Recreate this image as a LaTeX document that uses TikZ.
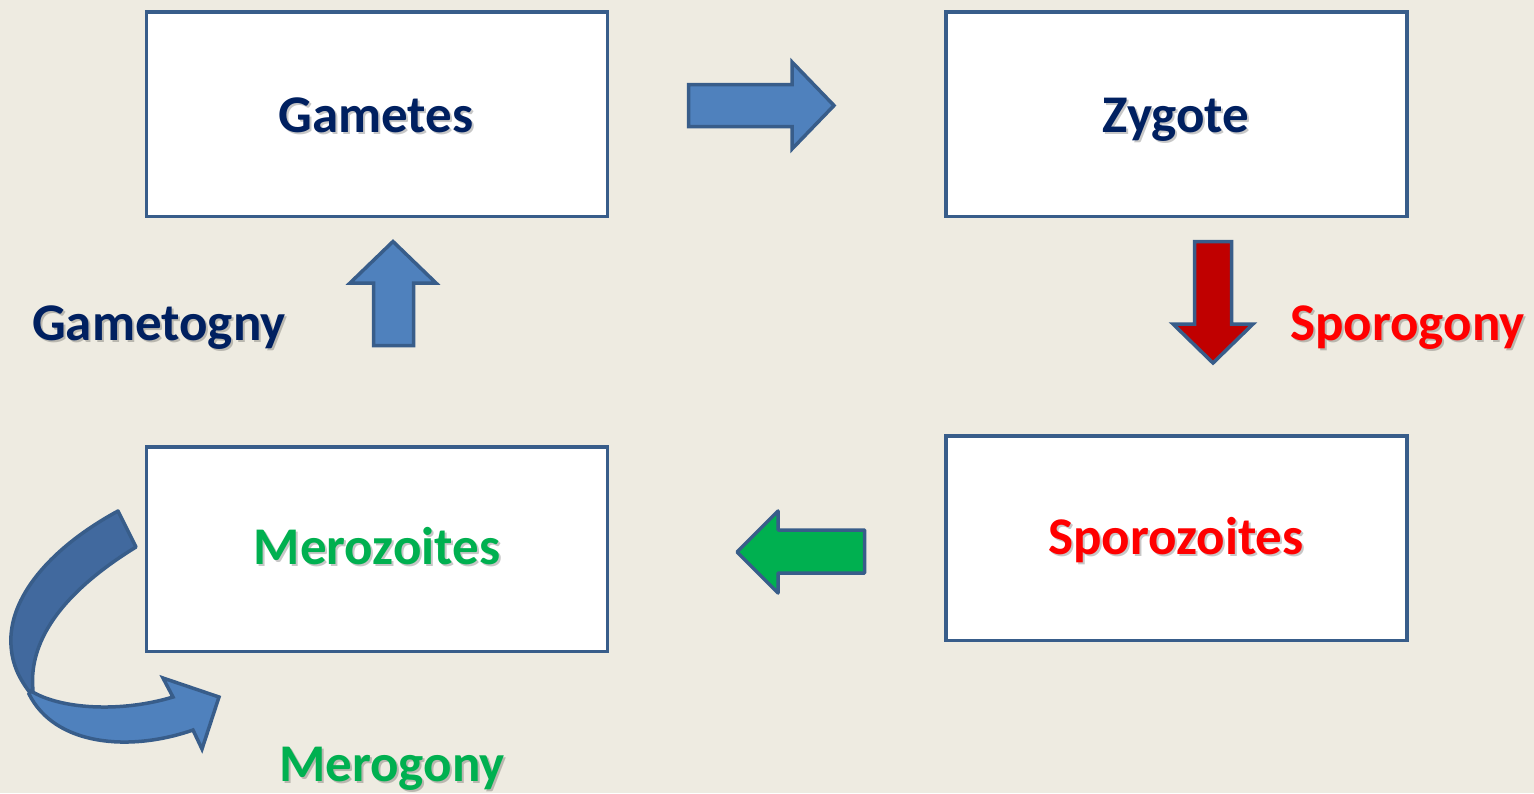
\documentclass[tikz,border=0pt]{standalone}
\usepackage{fontspec}
\setmainfont{Carlito}
\definecolor{bg}{HTML}{EEEBE1}
\definecolor{edge}{HTML}{385D8A}
\definecolor{blfill}{HTML}{4F81BD}
\definecolor{bldark}{HTML}{41699E}
\definecolor{rdfill}{HTML}{C00000}
\definecolor{grfill}{HTML}{00B050}
\definecolor{navy}{HTML}{002060}
\definecolor{redtxt}{HTML}{FF0000}
\definecolor{grtxt}{HTML}{00B050}
\tikzset{
  box/.style={draw=edge, line width=3.5pt, fill=white, minimum width=461pt, minimum height=204.5pt, inner sep=0pt},
  txt/.style={anchor=base, inner sep=0pt, font=\fontsize{53}{60}\selectfont\bfseries},
  txtw/.style={anchor=base west, inner sep=0pt, font=\fontsize{53}{60}\selectfont\bfseries},
  shd/.style={text=black, opacity=0.22, xshift=2pt, yshift=-2pt},
  blockarrow/.style={draw=edge, line width=3.5pt, line join=miter},
}
\begin{document}
\begin{tikzpicture}[x=1pt,y=-1pt]
\useasboundingbox (0,0) rectangle (1534,793);
\fill[bg] (0,0) rectangle (1534,793);

% boxes
\node[box] (gam) at (377,114) {};
\node[box] (zyg) at (1176.5,114) {};
\node[box] (mer) at (377,549) {};
\node[box] (spo) at (1176.5,538) {};

% box texts
\node[txt,shd] (gamS) at (376,132) {Gametes};
\node[txt,text=navy] (gamT) at (376,132) {Gametes};
\node[txt,shd] (zygS) at (1176,132) {Zygote};
\node[txt,text=navy] (zygT) at (1176,132) {Zygote};
\node[txt,shd] (merS) at (377,564) {Merozoites};
\node[txt,text=grtxt] (merT) at (377,564) {Merozoites};
\node[txt,shd] (spoS) at (1176,554) {Sporozoites};
\node[txt,text=redtxt] (spoT) at (1176,554) {Sporozoites};

% process labels
\node[txtw,shd] (gtgS) at (32,340) {Gametogny};
\node[txtw,text=navy] (gtgT) at (32,340) {Gametogny};
\node[txtw,shd] (sprS) at (1290,340) {Sporogony};
\node[txtw,text=redtxt] (sprT) at (1290,340) {Sporogony};
\node[txtw,shd] (mrgS) at (279,781) {Merogony};
\node[txtw,text=grtxt] (mrgT) at (279,781) {Merogony};

% right arrow Gametes -> Zygote
\filldraw[blockarrow, fill=blfill] (688.5,84.5) -- (792,84.5) -- (792,62) -- (834,105.5) -- (792,149) -- (792,126.5) -- (688.5,126.5) -- cycle;

% down arrow Zygote -> Sporozoites
\filldraw[blockarrow, fill=rdfill] (1194.5,241.5) -- (1231.5,241.5) -- (1231.5,324) -- (1253,324) -- (1213,363) -- (1173,324) -- (1194.5,324) -- cycle;

% left arrow Sporozoites -> Merozoites
\filldraw[blockarrow, fill=grfill, line join=round] (864.5,530) -- (778,530) -- (778,511) -- (737,552) -- (778,593) -- (778,573) -- (864.5,573) -- cycle;

% up arrow Merozoites -> Gametes
\filldraw[blockarrow, fill=blfill] (373.5,345.5) -- (373.5,283) -- (350,283) -- (393,241.5) -- (436,283) -- (413.5,283) -- (413.5,345.5) -- cycle;

% curved arrow (merogony)
\filldraw[draw=edge, line width=3.5pt, line join=round, fill=bldark]
  (118,511) .. controls (50,548) and (8,598) .. (11,645)
  .. controls (12,665) and (20,680) .. (31,694)
  -- (33,690) .. controls (29,650) and (50,600) .. (136,547) -- cycle;
\filldraw[draw=edge, line width=3.5pt, line join=miter, fill=blfill]
  (31,691) .. controls (60,709) and (120,713) .. (173,697)
  -- (163,678) -- (219,697) -- (202,749) -- (193,730)
  .. controls (130,752) and (55,746) .. (29,694) -- cycle;
\end{tikzpicture}
\end{document}
